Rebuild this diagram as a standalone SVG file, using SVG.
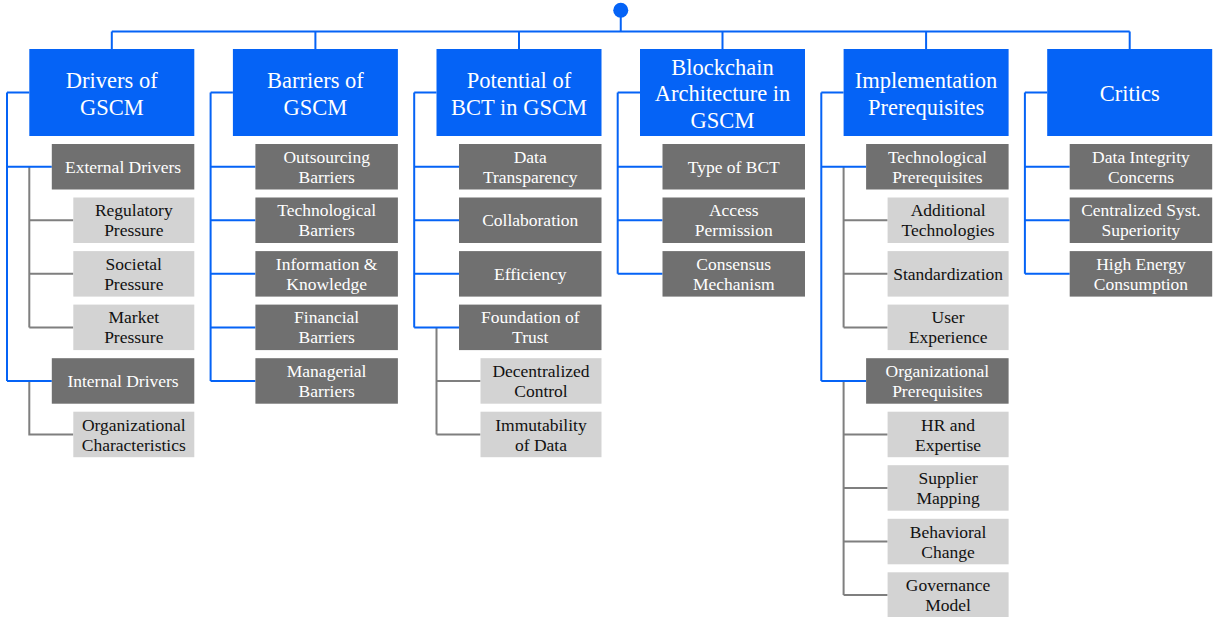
<svg xmlns="http://www.w3.org/2000/svg" width="1213" height="617" viewBox="0 0 1213 617">
  <style>
    .head { fill: #0563F6; }
    .l1 { fill: #707070; }
    .l2 { fill: #D3D3D3; }
    text { font-family: 'Liberation Serif', Tinos, 'DejaVu Serif', 'Noto Serif', serif; text-anchor: middle; }
    .ht { font-size: 22.5px; fill: #FFFFFF; }
    .t1 { font-size: 17.5px; fill: #FFFFFF; }
    .t2 { font-size: 17.5px; fill: #111111; }
    .wb { fill: none; stroke: #0563F6; stroke-width: 2; }
    .wg { fill: none; stroke: #7F7F7F; stroke-width: 2; }
  </style>

  <!-- connectors: grey sub-branches first, blue trunk lines on top -->
  <g id="connectors">
    <path class="wg" d="M29.3,166.8 V327.4 M29.3,220.3 H73.3 M29.3,273.8 H73.3 M29.3,327.4 H73.3 M29.3,380.9 V434.5 H73.3"/>
    <path class="wg" d="M436.5,327.4 V434.5 M436.5,380.9 H480.5 M436.5,434.5 H480.5"/>
    <path class="wg" d="M843.6,166.8 V327.4 M843.6,220.3 H887.6 M843.6,273.8 H887.6 M843.6,327.4 H887.6 M843.6,380.9 V595.1 M843.6,434.5 H887.6 M843.6,488 H887.6 M843.6,541.5 H887.6 M843.6,595.1 H887.6"/>

    <path class="wb" d="M620.75,17 V31.5 M111.8,31.5 H1129.7 M111.8,31.5 V49 M315.4,31.5 V49 M519,31.5 V49 M722.5,31.5 V49 M926.1,31.5 V49 M1129.7,31.5 V49"/>
    <path class="wb" d="M7,92.5 V380.9 M7,92.5 H29.3 M7,166.8 H51.8 M7,380.9 H51.8"/>
    <path class="wb" d="M210.6,92.5 V380.9 M210.6,92.5 H232.9 M210.6,166.8 H255.4 M210.6,220.3 H255.4 M210.6,273.8 H255.4 M210.6,327.4 H255.4 M210.6,380.9 H255.4"/>
    <path class="wb" d="M414.2,92.5 V327.4 M414.2,92.5 H436.5 M414.2,166.8 H459 M414.2,220.3 H459 M414.2,273.8 H459 M414.2,327.4 H459"/>
    <path class="wb" d="M617.7,92.5 V273.8 M617.7,92.5 H640 M617.7,166.8 H662.5 M617.7,220.3 H662.5 M617.7,273.8 H662.5"/>
    <path class="wb" d="M821.3,92.5 V380.9 M821.3,92.5 H843.6 M821.3,166.8 H866.1 M821.3,380.9 H866.1"/>
    <path class="wb" d="M1024.9,92.5 V273.8 M1024.9,92.5 H1047.2 M1024.9,166.8 H1069.7 M1024.9,220.3 H1069.7 M1024.9,273.8 H1069.7"/>
  </g>

  <g id="root">
    <circle cx="620.75" cy="10.3" r="7.5" fill="#0563F6"/>
  </g>

  <!-- column 1 -->
  <g id="drivers">
    <rect class="head" x="29.3" y="49" width="165" height="87"/>
    <text class="ht"><tspan x="111.8" y="88.3">Drivers of</tspan><tspan x="111.8" y="115">GSCM</tspan></text>
  </g>
  <g id="external-drivers">
    <rect class="l1" x="51.8" y="144" width="142.5" height="45.5"/>
    <text class="t1" x="123.05" y="172.8">External Drivers</text>
  </g>
  <g id="regulatory-pressure">
    <rect class="l2" x="73.3" y="197.5" width="121" height="45.5"/>
    <text class="t2"><tspan x="133.8" y="216.3">Regulatory</tspan><tspan x="133.8" y="236.3">Pressure</tspan></text>
  </g>
  <g id="societal-pressure">
    <rect class="l2" x="73.3" y="251.1" width="121" height="45.5"/>
    <text class="t2"><tspan x="133.8" y="269.8">Societal</tspan><tspan x="133.8" y="289.8">Pressure</tspan></text>
  </g>
  <g id="market-pressure">
    <rect class="l2" x="73.3" y="304.6" width="121" height="45.5"/>
    <text class="t2"><tspan x="133.8" y="323.4">Market</tspan><tspan x="133.8" y="343.4">Pressure</tspan></text>
  </g>
  <g id="internal-drivers">
    <rect class="l1" x="51.8" y="358.2" width="142.5" height="45.5"/>
    <text class="t1" x="123.05" y="386.9">Internal Drivers</text>
  </g>
  <g id="organizational-characteristics">
    <rect class="l2" x="73.3" y="411.7" width="121" height="45.5"/>
    <text class="t2"><tspan x="133.8" y="430.5">Organizational</tspan><tspan x="133.8" y="450.5">Characteristics</tspan></text>
  </g>

  <!-- column 2 -->
  <g id="barriers">
    <rect class="head" x="232.9" y="49" width="165" height="87"/>
    <text class="ht"><tspan x="315.4" y="88.3">Barriers of</tspan><tspan x="315.4" y="115">GSCM</tspan></text>
  </g>
  <g id="outsourcing-barriers">
    <rect class="l1" x="255.4" y="144" width="142.5" height="45.5"/>
    <text class="t1"><tspan x="326.65" y="162.8">Outsourcing</tspan><tspan x="326.65" y="182.8">Barriers</tspan></text>
  </g>
  <g id="technological-barriers">
    <rect class="l1" x="255.4" y="197.5" width="142.5" height="45.5"/>
    <text class="t1"><tspan x="326.65" y="216.3">Technological</tspan><tspan x="326.65" y="236.3">Barriers</tspan></text>
  </g>
  <g id="information-knowledge">
    <rect class="l1" x="255.4" y="251.1" width="142.5" height="45.5"/>
    <text class="t1"><tspan x="326.65" y="269.8">Information &amp;</tspan><tspan x="326.65" y="289.8">Knowledge</tspan></text>
  </g>
  <g id="financial-barriers">
    <rect class="l1" x="255.4" y="304.6" width="142.5" height="45.5"/>
    <text class="t1"><tspan x="326.65" y="323.4">Financial</tspan><tspan x="326.65" y="343.4">Barriers</tspan></text>
  </g>
  <g id="managerial-barriers">
    <rect class="l1" x="255.4" y="358.2" width="142.5" height="45.5"/>
    <text class="t1"><tspan x="326.65" y="376.9">Managerial</tspan><tspan x="326.65" y="396.9">Barriers</tspan></text>
  </g>

  <!-- column 3 -->
  <g id="potential">
    <rect class="head" x="436.5" y="49" width="165" height="87"/>
    <text class="ht"><tspan x="519" y="88.3">Potential of</tspan><tspan x="519" y="115">BCT in GSCM</tspan></text>
  </g>
  <g id="data-transparency">
    <rect class="l1" x="459" y="144" width="142.5" height="45.5"/>
    <text class="t1"><tspan x="530.25" y="162.8">Data</tspan><tspan x="530.25" y="182.8">Transparency</tspan></text>
  </g>
  <g id="collaboration">
    <rect class="l1" x="459" y="197.5" width="142.5" height="45.5"/>
    <text class="t1" x="530.25" y="226.3">Collaboration</text>
  </g>
  <g id="efficiency">
    <rect class="l1" x="459" y="251.1" width="142.5" height="45.5"/>
    <text class="t1" x="530.25" y="279.8">Efficiency</text>
  </g>
  <g id="foundation-of-trust">
    <rect class="l1" x="459" y="304.6" width="142.5" height="45.5"/>
    <text class="t1"><tspan x="530.25" y="323.4">Foundation of</tspan><tspan x="530.25" y="343.4">Trust</tspan></text>
  </g>
  <g id="decentralized-control">
    <rect class="l2" x="480.5" y="358.2" width="121" height="45.5"/>
    <text class="t2"><tspan x="541" y="376.9">Decentralized</tspan><tspan x="541" y="396.9">Control</tspan></text>
  </g>
  <g id="immutability-of-data">
    <rect class="l2" x="480.5" y="411.7" width="121" height="45.5"/>
    <text class="t2"><tspan x="541" y="430.5">Immutability</tspan><tspan x="541" y="450.5">of Data</tspan></text>
  </g>

  <!-- column 4 -->
  <g id="architecture">
    <rect class="head" x="640" y="49" width="165" height="87"/>
    <text class="ht"><tspan x="722.5" y="74.5">Blockchain</tspan><tspan x="722.5" y="101">Architecture in</tspan><tspan x="722.5" y="127.5">GSCM</tspan></text>
  </g>
  <g id="type-of-bct">
    <rect class="l1" x="662.5" y="144" width="142.5" height="45.5"/>
    <text class="t1" x="733.75" y="172.8">Type of BCT</text>
  </g>
  <g id="access-permission">
    <rect class="l1" x="662.5" y="197.5" width="142.5" height="45.5"/>
    <text class="t1"><tspan x="733.75" y="216.3">Access</tspan><tspan x="733.75" y="236.3">Permission</tspan></text>
  </g>
  <g id="consensus-mechanism">
    <rect class="l1" x="662.5" y="251.1" width="142.5" height="45.5"/>
    <text class="t1"><tspan x="733.75" y="269.8">Consensus</tspan><tspan x="733.75" y="289.8">Mechanism</tspan></text>
  </g>

  <!-- column 5 -->
  <g id="prerequisites">
    <rect class="head" x="843.6" y="49" width="165" height="87"/>
    <text class="ht"><tspan x="926.1" y="88.3">Implementation</tspan><tspan x="926.1" y="115">Prerequisites</tspan></text>
  </g>
  <g id="technological-prerequisites">
    <rect class="l1" x="866.1" y="144" width="142.5" height="45.5"/>
    <text class="t1"><tspan x="937.35" y="162.8">Technological</tspan><tspan x="937.35" y="182.8">Prerequisites</tspan></text>
  </g>
  <g id="additional-technologies">
    <rect class="l2" x="887.6" y="197.5" width="121" height="45.5"/>
    <text class="t2"><tspan x="948.1" y="216.3">Additional</tspan><tspan x="948.1" y="236.3">Technologies</tspan></text>
  </g>
  <g id="standardization">
    <rect class="l2" x="887.6" y="251.1" width="121" height="45.5"/>
    <text class="t2" x="948.1" y="279.8">Standardization</text>
  </g>
  <g id="user-experience">
    <rect class="l2" x="887.6" y="304.6" width="121" height="45.5"/>
    <text class="t2"><tspan x="948.1" y="323.4">User</tspan><tspan x="948.1" y="343.4">Experience</tspan></text>
  </g>
  <g id="organizational-prerequisites">
    <rect class="l1" x="866.1" y="358.2" width="142.5" height="45.5"/>
    <text class="t1"><tspan x="937.35" y="376.9">Organizational</tspan><tspan x="937.35" y="396.9">Prerequisites</tspan></text>
  </g>
  <g id="hr-expertise">
    <rect class="l2" x="887.6" y="411.7" width="121" height="45.5"/>
    <text class="t2"><tspan x="948.1" y="430.5">HR and</tspan><tspan x="948.1" y="450.5">Expertise</tspan></text>
  </g>
  <g id="supplier-mapping">
    <rect class="l2" x="887.6" y="465.2" width="121" height="45.5"/>
    <text class="t2"><tspan x="948.1" y="484">Supplier</tspan><tspan x="948.1" y="504">Mapping</tspan></text>
  </g>
  <g id="behavioral-change">
    <rect class="l2" x="887.6" y="518.8" width="121" height="45.5"/>
    <text class="t2"><tspan x="948.1" y="537.5">Behavioral</tspan><tspan x="948.1" y="557.5">Change</tspan></text>
  </g>
  <g id="governance-model">
    <rect class="l2" x="887.6" y="572.3" width="121" height="45.5"/>
    <text class="t2"><tspan x="948.1" y="591.1">Governance</tspan><tspan x="948.1" y="611.1">Model</tspan></text>
  </g>

  <!-- column 6 -->
  <g id="critics">
    <rect class="head" x="1047.2" y="49" width="165" height="87"/>
    <text class="ht" x="1129.7" y="101">Critics</text>
  </g>
  <g id="data-integrity">
    <rect class="l1" x="1069.7" y="144" width="142.5" height="45.5"/>
    <text class="t1"><tspan x="1140.95" y="162.8">Data Integrity</tspan><tspan x="1140.95" y="182.8">Concerns</tspan></text>
  </g>
  <g id="centralized-superiority">
    <rect class="l1" x="1069.7" y="197.5" width="142.5" height="45.5"/>
    <text class="t1"><tspan x="1140.95" y="216.3">Centralized Syst.</tspan><tspan x="1140.95" y="236.3">Superiority</tspan></text>
  </g>
  <g id="energy-consumption">
    <rect class="l1" x="1069.7" y="251.1" width="142.5" height="45.5"/>
    <text class="t1"><tspan x="1140.95" y="269.8">High Energy</tspan><tspan x="1140.95" y="289.8">Consumption</tspan></text>
  </g>
</svg>
